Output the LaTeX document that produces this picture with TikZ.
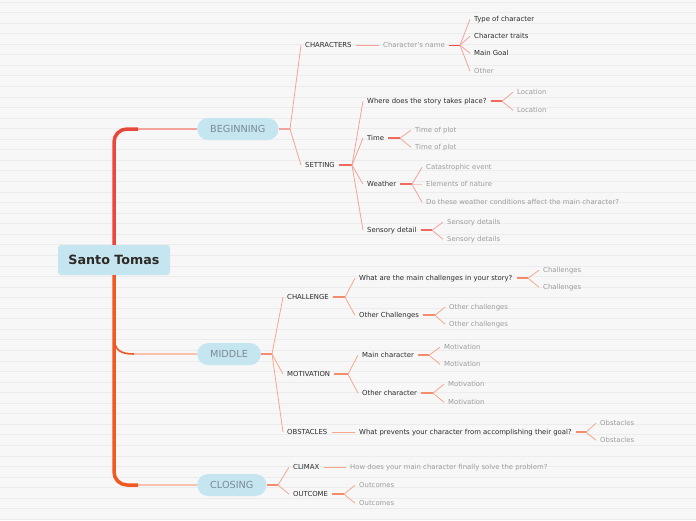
\documentclass[tikz,border=0pt]{standalone}
\usepackage{fontspec}
\setmainfont{DejaVu Sans}
\usetikzlibrary{calc}
\definecolor{bg}{HTML}{F7F7F7}
\definecolor{bgline}{HTML}{ECECEC}
\definecolor{pillblue}{HTML}{C5E5F0}
\definecolor{pilltext}{HTML}{7A8A96}
\definecolor{roottext}{HTML}{2D2A26}
\definecolor{dark}{HTML}{2B2B2B}
\definecolor{grayt}{HTML}{9C9C9C}
\definecolor{trunkred}{HTML}{E8473C}
\definecolor{trunkor}{HTML}{F05A22}
\definecolor{begline}{HTML}{F4A39A}
\definecolor{begstub}{HTML}{EE6A5F}
\definecolor{midline}{HTML}{F5A88C}
\definecolor{midstub}{HTML}{F28C6C}
\definecolor{redstub}{HTML}{E94A3C}
\begin{document}
\begin{tikzpicture}[x=1pt,y=-1pt,
  lbl/.style={anchor=west, inner xsep=4pt, inner ysep=1pt, yshift=-1.2pt, font=\fontsize{6.9}{8}\selectfont, text=dark},
  sub/.style={lbl, text=grayt},
  jn/.style={yshift=-1.2pt},
  pill/.style={anchor=west, fill=pillblue, rounded corners=11pt, minimum height=22pt, inner xsep=13pt, inner ysep=0pt, font=\fontsize{9.7}{11}\selectfont, text=pilltext},
  rootbox/.style={fill=pillblue, rounded corners=3pt, minimum width=112pt, minimum height=30pt, font=\fontsize{12.7}{14}\selectfont\bfseries, text=roottext},
  bl/.style={begline, line width=0.8pt},
  bs/.style={begline, line width=1.4pt},
  bss/.style={begstub, line width=1.8pt},
  rs/.style={redstub, line width=1.4pt},
  ml/.style={midline, line width=0.8pt},
  ms/.style={midstub, line width=1.6pt},
]
\fill[bg] (0,0) rectangle (696,520);
\useasboundingbox (0,0) rectangle (696,520);
\foreach \i in {0,...,49} \draw[bgline, line width=0.6pt] (0,{1.8+\i*10.56}) -- (696,{1.8+\i*10.56});

% root and main branches
\node[rootbox] (root) at (114,260) {Santo Tomas};
\node[pill] (beg) at (197,129) {BEGINNING};
\node[pill] (mid) at (197,354) {MIDDLE};
\node[pill] (clo) at (197,485) {CLOSING};

\coordinate (bB) at (138,129);
\coordinate (bC) at (138,485);
\coordinate (tM) at (114,336);
\coordinate (mM) at (134,354);
\draw[trunkred, line width=3.5pt, rounded corners=13pt] (root.north) |- (bB);
\draw[begline, line width=1.2pt] (bB) -- (beg.west);
\draw[trunkor, line width=3.5pt, rounded corners=13pt] (root.south) |- (bC);
\draw[midline!70, line width=1.2pt] (bC) -- (clo.west);
\draw[trunkor, line width=1.6pt] (tM) .. controls (114,350) and (120,354) .. (mM);
\draw[midline!70, line width=1.2pt] (mM) -- (mid.west);

% ---------- BEGINNING ----------
\node[lbl] (chars) at (301,44) {CHARACTERS};
\node[lbl] (sett) at (301,164) {SETTING};
\node[sub] (cname) at (379,44) {Character's name};
\node[lbl] (c1) at (470,18) {Type of character};
\node[lbl] (c2) at (470,35) {Character traits};
\node[lbl] (c3) at (470,52) {Main Goal};
\node[sub] (c4) at (470,70) {Other};
\node[lbl] (where) at (363,100) {Where does the story takes place?};
\node[sub] (loc1) at (513,91) {Location};
\node[sub] (loc2) at (513,109) {Location};
\node[lbl] (time) at (363,137) {Time};
\node[sub] (tp1) at (411,129) {Time of plot};
\node[sub] (tp2) at (411,146) {Time of plot};
\node[lbl] (weather) at (363,183) {Weather};
\node[sub] (we1) at (422,166) {Catastrophic event};
\node[sub] (we2) at (422,183) {Elements of nature};
\node[sub] (we3) at (422,201) {Do these weather conditions affect the main character?};
\node[lbl] (sens) at (363,229) {Sensory detail};
\node[sub] (sd1) at (443,221) {Sensory details};
\node[sub] (sd2) at (443,238) {Sensory details};

\coordinate (jB) at (290,129);
\coordinate[jn] (jC) at (460,44);
\coordinate[jn] (jS) at (352,164);
\coordinate[jn] (jW) at (502,100);
\coordinate[jn] (jT) at (400,137);
\coordinate[jn] (jWe) at (412,183);
\coordinate[jn] (jSe) at (432,229);

\draw[bs] (beg.east) -- (jB);
\draw[bl] (jB) -- (chars.west);
\draw[bl] (jB) -- (sett.west);
\draw[bl] (chars.east) -- (cname.west);
\draw[rs] (cname.east) -- (jC);
\foreach \c in {c1,c2,c3,c4} \draw[bl] (jC) -- (\c.west);
\draw[bss] (sett.east) -- (jS);
\foreach \c in {where,time,weather,sens} \draw[bl] (jS) -- (\c.west);
\draw[bss] (where.east) -- (jW);
\foreach \c in {loc1,loc2} \draw[bl] (jW) -- (\c.west);
\draw[bss] (time.east) -- (jT);
\foreach \c in {tp1,tp2} \draw[bl] (jT) -- (\c.west);
\draw[bss] (weather.east) -- (jWe);
\foreach \c in {we1,we3} \draw[bl] (jWe) -- (\c.west);
\draw[begline!60, line width=1.4pt] (jWe) -- (we2.west);
\draw[bss] (sens.east) -- (jSe);
\foreach \c in {sd1,sd2} \draw[bl] (jSe) -- (\c.west);

% ---------- MIDDLE ----------
\node[lbl] (chal) at (283,296) {CHALLENGE};
\node[lbl] (mot) at (283,373) {MOTIVATION};
\node[lbl] (obs) at (283,431) {OBSTACLES};
\node[lbl] (q1) at (355,277) {What are the main challenges in your story?};
\node[sub] (ch1) at (539,269) {Challenges};
\node[sub] (ch2) at (539,286) {Challenges};
\node[lbl] (oc) at (355,314) {Other Challenges};
\node[sub] (oc1) at (445,306) {Other challenges};
\node[sub] (oc2) at (445,323) {Other challenges};
\node[lbl] (mc) at (358,354) {Main character};
\node[sub] (mo1) at (440,346) {Motivation};
\node[sub] (mo2) at (440,363) {Motivation};
\node[lbl] (och) at (358,392) {Other character};
\node[sub] (mo3) at (444,383) {Motivation};
\node[sub] (mo4) at (444,401) {Motivation};
\node[lbl] (prev) at (355,431) {What prevents your character from accomplishing their goal?};
\node[sub] (ob1) at (596,422) {Obstacles};
\node[sub] (ob2) at (596,439) {Obstacles};

\coordinate (jM) at (272,354);
\coordinate[jn] (jCh) at (345,296);
\coordinate[jn] (jQ) at (528,277);
\coordinate[jn] (jOC) at (435,314);
\coordinate[jn] (jMo) at (348,373);
\coordinate[jn] (jMC) at (429,354);
\coordinate[jn] (jOCh) at (433,392);
\coordinate[jn] (jOb) at (586,431);

\draw[ms] (mid.east) -- (jM);
\foreach \c in {chal,mot,obs} \draw[ml] (jM) -- (\c.west);
\draw[ms] (chal.east) -- (jCh);
\foreach \c in {q1,oc} \draw[ml] (jCh) -- (\c.west);
\draw[ms] (q1.east) -- (jQ);
\foreach \c in {ch1,ch2} \draw[ml] (jQ) -- (\c.west);
\draw[ms] (oc.east) -- (jOC);
\foreach \c in {oc1,oc2} \draw[ml] (jOC) -- (\c.west);
\draw[ms] (mot.east) -- (jMo);
\foreach \c in {mc,och} \draw[ml] (jMo) -- (\c.west);
\draw[ms] (mc.east) -- (jMC);
\foreach \c in {mo1,mo2} \draw[ml] (jMC) -- (\c.west);
\draw[ms] (och.east) -- (jOCh);
\foreach \c in {mo3,mo4} \draw[ml] (jOCh) -- (\c.west);
\draw[ml, line width=1.1pt] (obs.east) -- (prev.west);
\draw[ms] (prev.east) -- (jOb);
\foreach \c in {ob1,ob2} \draw[ml] (jOb) -- (\c.west);

% ---------- CLOSING ----------
\node[lbl] (climax) at (289,466) {CLIMAX};
\node[lbl] (outc) at (289,493) {OUTCOME};
\node[sub] (how) at (346,466) {How does your main character finally solve the problem?};
\node[sub] (ou1) at (355,484) {Outcomes};
\node[sub] (ou2) at (355,502) {Outcomes};

\coordinate (jCl) at (278,485);
\coordinate[jn] (jOu) at (344,493);

\draw[ms] (clo.east) -- (jCl);
\foreach \c in {climax,outc} \draw[ml] (jCl) -- (\c.west);
\draw[ml, line width=1.1pt] (climax.east) -- (how.west);
\draw[ms] (outc.east) -- (jOu);
\foreach \c in {ou1,ou2} \draw[ml] (jOu) -- (\c.west);
\end{tikzpicture}
\end{document}
